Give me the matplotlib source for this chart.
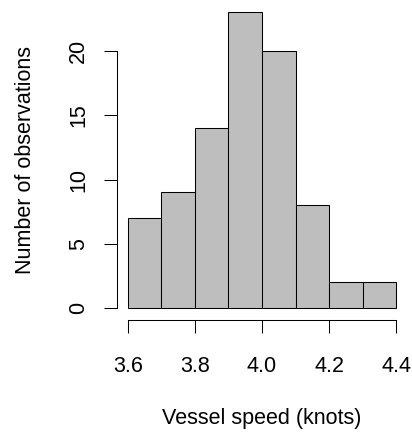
import matplotlib
matplotlib.use('Agg')
import matplotlib.pyplot as plt
import numpy as np

# histogram bins (left edges) and counts
bin_edges = [3.6, 3.7, 3.8, 3.9, 4.0, 4.1, 4.2, 4.3, 4.4]
counts = [7, 9, 14, 23, 20, 8, 2, 2]
x_ticks = [3.6, 3.8, 4.0, 4.2, 4.4]
x_tick_labels = ['3.6', '3.8', '4.0', '4.2', '4.4']
y_ticks = [0, 5, 10, 15, 20]

plt.rcParams['font.family'] = ['Liberation Sans', 'DejaVu Sans']

fig = plt.figure(figsize=(4.12, 4.32), dpi=100)
ax = fig.add_axes([117 / 412, (432 - 320) / 432, (407 - 117) / 412, 319.4 / 432])

widths = np.diff(bin_edges)
ax.bar(bin_edges[:-1], counts, width=widths, align='edge',
       color='#BEBEBE', edgecolor='black', linewidth=0.75)

# R-style 4% range extension
xr = bin_edges[-1] - bin_edges[0]
ax.set_xlim(bin_edges[0] - 0.04 * xr, bin_edges[-1] + 0.04 * xr)
ax.set_ylim(-0.04 * max(counts), max(counts) * 1.04)

for s in ['top', 'right']:
    ax.spines[s].set_visible(False)
ax.spines['left'].set_bounds(0, 20)
ax.spines['bottom'].set_bounds(3.6, 4.4)
ax.spines['left'].set_linewidth(0.75)
ax.spines['bottom'].set_linewidth(0.75)

ax.set_xticks(x_ticks)
ax.set_xticklabels(x_tick_labels)
ax.set_yticks(y_ticks)
ax.tick_params(axis='both', direction='out', length=9.4, width=0.75,
               labelsize=15.5)
ax.tick_params(axis='x', pad=16.5)
ax.tick_params(axis='y', pad=10.5)
for lab in ax.get_yticklabels():
    lab.set_rotation(90)
    lab.set_va('center')

ax.set_xlabel('Vessel speed (knots)', fontsize=15.5, labelpad=22.5)
ax.set_ylabel('Number of observations', fontsize=15.5, labelpad=23.5)

fig.savefig('out.png', dpi=100)
